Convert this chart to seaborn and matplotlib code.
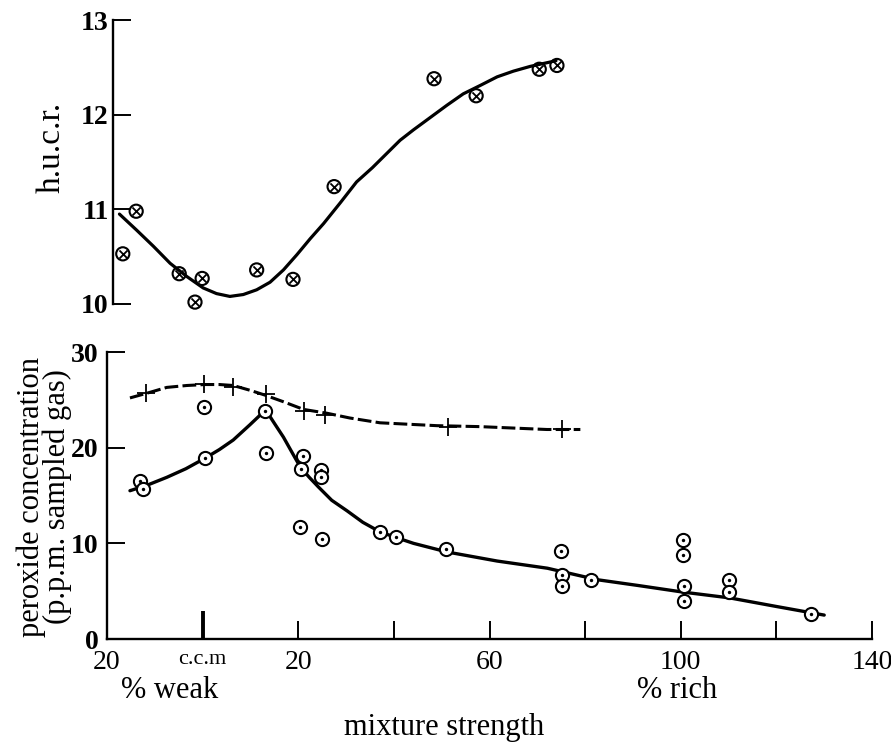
import matplotlib
matplotlib.use("Agg")
import matplotlib.pyplot as plt
import seaborn as sns

# ---- data ----
# top panel: h.u.c.r. measurements
hucr_x = [-16.7, -13.9, -4.9, -1.6, -0.1, 11.3, 18.9, 27.5, 48.4, 57.2, 70.4, 74.1]
hucr_y = [10.53, 10.98, 10.32, 10.02, 10.27, 10.36, 10.26, 11.24, 12.38, 12.20, 12.48, 12.52]

# hand-drawn fit through the h.u.c.r. points
hucr_fit_x = [-17.4, -13.8, -10.3, -6.8, -3.3, 0.1, 2.9, 5.7, 8.5, 11.3, 14.1, 16.9,
              19.7, 22.5, 25.3, 28.8, 32.2, 35.5, 38.5, 41.3, 44.1, 47.6, 51.1, 54.5,
              58.1, 61.6, 65.0, 68.5, 72.1, 73.9]
hucr_fit_y = [10.95, 10.78, 10.61, 10.43, 10.29, 10.17, 10.11, 10.08, 10.10, 10.15,
              10.23, 10.36, 10.52, 10.69, 10.85, 11.07, 11.29, 11.44, 11.59, 11.73,
              11.84, 11.97, 12.10, 12.22, 12.31, 12.40, 12.46, 12.51, 12.55, 12.57]

# bottom panel: peroxide (circle-dot points)
perox_x = [-13.1, -12.4, 0.3, 0.5, 13.0, 13.2, 20.3, 20.6, 21.0, 24.8, 24.8, 24.9,
           37.1, 40.5, 50.9, 75.0, 75.2, 75.2, 81.3, 100.5, 100.5, 100.6, 100.6,
           110.0, 110.0, 127.3]
perox_y = [16.5, 15.7, 24.2, 18.9, 23.8, 19.4, 11.7, 17.8, 19.1, 17.7, 16.9, 10.5,
           11.2, 10.7, 9.4, 9.2, 6.7, 5.5, 6.2, 10.4, 8.8, 5.5, 4.0, 6.2, 4.9, 2.6]

perox_fit_x = [-15.2, -11.5, -7.5, -3.5, 0.5, 3.5, 6.4, 9.9, 11.8, 13.0, 14.8, 16.9,
               18.7, 20.4, 22.3, 24.2, 27.0, 30.2, 33.5, 37.1, 40.5, 44.1, 51.1, 61.6,
               72.1, 82.5, 91.0, 100.5, 110.2, 120.0, 130.0]
perox_fit_y = [15.5, 16.1, 16.9, 17.8, 18.9, 19.8, 20.8, 22.4, 23.3, 24.1, 22.7, 21.1,
               19.5, 18.0, 16.9, 15.9, 14.5, 13.4, 12.2, 11.2, 10.6, 10.0, 9.1, 8.15,
               7.4, 6.2, 5.6, 4.9, 4.3, 3.4, 2.5]

# bottom panel: crosses
cross_x = [-11.8, 0.3, 6.4, 13.2, 21.1, 25.6, 51.3, 75.2]
cross_y = [25.7, 26.7, 26.3, 25.6, 23.8, 23.4, 22.2, 21.9]

cross_fit_x = [-15.2, -11.6, -7.5, -3.3, 0.5, 3.5, 6.4, 9.9, 13.0, 16.9, 21.1, 26.0,
               30.8, 37.1, 43.0, 49.0, 58.0, 65.0, 72.0, 79.0]
cross_fit_y = [25.2, 25.7, 26.3, 26.5, 26.6, 26.6, 26.5, 26.0, 25.5, 24.8, 24.0, 23.6,
               23.1, 22.6, 22.45, 22.3, 22.2, 22.05, 21.9, 21.9]

x_ticks = [-20, 0, 20, 40, 60, 80, 100, 120, 140]
x_ticklabels = ["20", "c.c.m", "20", "", "60", "", "100", "", "140"]

# ---- style ----
sns.set_style("white")
plt.rcParams["font.family"] = ["Liberation Serif", "DejaVu Serif"]
plt.rcParams["text.color"] = "black"
ink = "black"

fig = plt.figure(figsize=(8.91, 7.42), dpi=100)
fig.set_facecolor("white")

left, width = 0.1201, 0.8586
ax_top = fig.add_axes([left, 0.5903, width, 0.3827])
ax_bot = fig.add_axes([left, 0.1388, width, 0.3868])

for ax in (ax_top, ax_bot):
    ax.set_facecolor("white")
    ax.set_xlim(-20, 140)
    ax.spines[["top", "right"]].set_visible(False)
    ax.tick_params(direction="in", length=13, width=1.4, color=ink,
                   labelcolor=ink, left=True, bottom=True)

# ---- top panel ----
sns.lineplot(x=hucr_fit_x, y=hucr_fit_y, sort=False, estimator=None,
             color=ink, linewidth=2.3, ax=ax_top)
sns.scatterplot(x=hucr_x, y=hucr_y, marker="o", s=90, facecolor="none",
                edgecolor=ink, linewidth=1.5, clip_on=False, zorder=3, ax=ax_top)
sns.scatterplot(x=hucr_x, y=hucr_y, marker="x", s=34, color=ink,
                linewidth=1.3, clip_on=False, zorder=4, ax=ax_top)

ax_top.set_ylim(10, 13)
ax_top.spines["bottom"].set_visible(False)
ax_top.spines["left"].set_position(("data", -18.8))
ax_top.spines["left"].set_linewidth(1.7)
ax_top.spines["left"].set_color(ink)
ax_top.set_xticks([])
ax_top.set_yticks([10, 11, 12, 13])
ax_top.set_yticklabels(["10", "11", "12", "13"], fontsize=20, fontweight="bold")
ax_top.tick_params(axis="y", pad=3)
ax_top.set_xlabel("")

# ---- bottom panel ----
sns.lineplot(x=cross_fit_x, y=cross_fit_y, sort=False, estimator=None,
             color=ink, linewidth=2.2, ax=ax_bot)
ax_bot.lines[-1].set_dashes((4.5, 1.4))
sns.scatterplot(x=cross_x, y=cross_y, marker="+", s=170, color=ink,
                linewidth=1.3, zorder=4, ax=ax_bot)

sns.lineplot(x=perox_fit_x, y=perox_fit_y, sort=False, estimator=None,
             color=ink, linewidth=2.4, ax=ax_bot)
sns.scatterplot(x=perox_x, y=perox_y, marker="o", s=90, facecolor="white",
                edgecolor=ink, linewidth=1.5, zorder=3, ax=ax_bot)
sns.scatterplot(x=perox_x, y=perox_y, marker="o", s=6, color=ink,
                linewidth=0, zorder=4, ax=ax_bot)

ax_bot.set_ylim(0, 30)
ax_bot.spines[["left", "bottom"]].set_linewidth(1.7)
ax_bot.spines[["left", "bottom"]].set_color(ink)
ax_bot.set_yticks([0, 10, 20, 30])
ax_bot.set_yticklabels(["0", "10", "20", "30"], fontsize=20, fontweight="bold")
ax_bot.tick_params(axis="y", pad=6)
ax_bot.set_xticks(x_ticks)
ax_bot.set_xticklabels(x_ticklabels, fontsize=20)
ax_bot.tick_params(axis="x", pad=8)
for lab in ax_bot.get_xticklabels():
    if lab.get_text() == "c.c.m":
        lab.set_fontsize(16)
# the c.c.m tick is longer and heavier
ccm_tick = ax_bot.xaxis.get_major_ticks()[1]
ccm_tick.tick1line.set_markersize(20)
ccm_tick.tick1line.set_markeredgewidth(2.8)

for ax in (ax_top, ax_bot):
    for ln in ax.lines:
        ln.set_solid_joinstyle("round")
        ln.set_dash_joinstyle("round")

# ---- labels ----
fig.text(0.058, 1 - 147 / 742, "h.u.c.r.", rotation=90, ha="center", va="center",
         fontsize=24)
fig.text(44 / 891, 1 - 497 / 742, "peroxide concentration\n(p.p.m. sampled gas)",
         rotation=90, ha="center", va="center", multialignment="center",
         linespacing=0.85, fontsize=22)
fig.text(170 / 891, 1 - 690 / 742, "% weak", ha="center", va="center", fontsize=22)
fig.text(677 / 891, 1 - 690 / 742, "% rich", ha="center", va="center", fontsize=22)
fig.text(444 / 891, 1 - 727 / 742, "mixture strength", ha="center", va="center",
         fontsize=22)

plt.savefig("out.png", dpi=100, facecolor="white")
